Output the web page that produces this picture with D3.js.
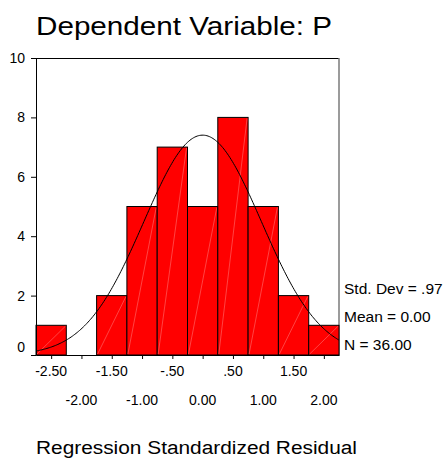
<!DOCTYPE html>
<html>
<head>
<meta charset="utf-8">
<script src="https://cdn.jsdelivr.net/npm/d3@7"></script>
<style>
  html, body { margin: 0; padding: 0; background: #fff; }
  svg { display: block; font-family: "Liberation Sans", Arial, sans-serif; }
</style>
</head>
<body>
<div id="chart"></div>
<script>
// histogram of standardized residuals (bin centres, counts)
const binCenters = [-2.5, -2.0, -1.5, -1.0, -0.5, 0.0, 0.5, 1.0, 1.5, 2.0];
const counts = [1, 0, 2, 5, 7, 5, 8, 5, 2, 1];
const yTicks = [0, 2, 4, 6, 8, 10];
const xLabelsTop = ["-2.50", "-1.50", "-.50", ".50", "1.50"];
const xLabelsTopAt = [-2.5, -1.5, -0.5, 0.5, 1.5];
const xLabelsBottom = ["-2.00", "-1.00", "0.00", "1.00", "2.00"];
const xLabelsBottomAt = [-2.0, -1.0, 0.0, 1.0, 2.0];
const stats = { sd: 0.97, mean: 0.0, n: 36 };
const statLines = ["Std. Dev = .97", "Mean = 0.00", "N = 36.00"];

class Histogram {
  constructor() {
    this.binWidth = 0.5;
    this.init();
  }

  init() {
    this.width = 446;
    this.height = 459;
    this.plot = { left: 36, right: 339, top: 58, bottom: 355 };

    this.x = d3
      .scaleLinear()
      .domain([binCenters[0] - this.binWidth / 2, binCenters[binCenters.length - 1] + this.binWidth / 2])
      .range([this.plot.left, this.plot.right]);
    this.y = d3.scaleLinear().domain([0, 10]).range([this.plot.bottom, this.plot.top]);

    this.svg = d3
      .select("#chart")
      .append("svg")
      .attr("width", this.width)
      .attr("height", this.height);

    this.render();
  }

  render() {
    const { x, y, svg, plot } = this;

    svg
      .append("text")
      .attr("x", 36)
      .attr("y", 35)
      .attr("font-size", 25)
      .attr("textLength", 296)
      .attr("lengthAdjust", "spacingAndGlyphs")
      .text("Dependent Variable: P");

    // frame: top black, right grey
    svg
      .append("line")
      .attr("x1", plot.left).attr("x2", plot.right)
      .attr("y1", plot.top + 0.5).attr("y2", plot.top + 0.5)
      .attr("stroke", "#000");
    svg
      .append("line")
      .attr("x1", plot.right).attr("x2", plot.right)
      .attr("y1", plot.top).attr("y2", plot.bottom)
      .attr("stroke", "#7a7a7a")
      .attr("stroke-width", 1.5);

    const bins = binCenters.map((c, i) => ({ c, n: counts[i] })).filter((d) => d.n > 0);
    const bar = svg.append("g").attr("class", "bars").selectAll("g").data(bins).join("g");
    bar
      .append("rect")
      .attr("x", (d) => x(d.c - this.binWidth / 2))
      .attr("y", (d) => y(d.n))
      .attr("width", (d) => x(d.c + this.binWidth / 2) - x(d.c - this.binWidth / 2))
      .attr("height", (d) => y(0) - y(d.n))
      .attr("fill", "#ff0000")
      .attr("stroke", "#000")
      .attr("stroke-width", 1);
    // faint seam along each bar's diagonal
    bar
      .append("line")
      .attr("x1", (d) => x(d.c - this.binWidth / 2) + 1)
      .attr("y1", y(0) - 1)
      .attr("x2", (d) => x(d.c + this.binWidth / 2) - 1)
      .attr("y2", (d) => y(d.n) + 1)
      .attr("stroke", "#ff7070")
      .attr("stroke-width", 0.6);

    // fitted normal curve
    const k = stats.n * this.binWidth / (stats.sd * Math.sqrt(2 * Math.PI));
    const xs = d3.range(x.domain()[0], x.domain()[1] + 0.001, 0.02);
    const line = d3
      .line()
      .x((v) => x(v))
      .y((v) => y(k * Math.exp(-0.5 * Math.pow((v - stats.mean) / stats.sd, 2))))
      .curve(d3.curveBasis);
    svg
      .append("path")
      .attr("d", line(xs))
      .attr("fill", "none")
      .attr("stroke", "#000")
      .attr("stroke-width", 1);

    // y axis
    const yAxis = svg
      .append("g")
      .attr("transform", `translate(${plot.left},0)`)
      .call(d3.axisLeft(y).tickValues(yTicks).tickSize(5).tickSizeOuter(0).tickPadding(6));
    yAxis.selectAll("text").attr("font-size", 14).attr("font-family", null).attr("fill", "#000");
    yAxis.selectAll("line,path").attr("stroke", "#000");
    yAxis.selectAll(".tick").filter((d) => d === 0).select("text").attr("dy", "-0.25em");

    // x axis: ticks at every bin centre, labels on two rows
    const xAxis = svg
      .append("g")
      .attr("transform", `translate(0,${plot.bottom})`)
      .call(d3.axisBottom(x).tickValues(binCenters).tickSize(4).tickSizeOuter(0).tickFormat(""));
    xAxis.selectAll("line,path").attr("stroke", "#000");

    svg
      .append("g")
      .selectAll("text")
      .data(xLabelsTop)
      .join("text")
      .attr("x", (d, i) => x(xLabelsTopAt[i]))
      .attr("y", 376)
      .attr("text-anchor", "middle")
      .attr("font-size", 14)
      .text((d) => d);
    svg
      .append("g")
      .selectAll("text")
      .data(xLabelsBottom)
      .join("text")
      .attr("x", (d, i) => x(xLabelsBottomAt[i]))
      .attr("y", 405)
      .attr("text-anchor", "middle")
      .attr("font-size", 14)
      .text((d) => d);

    svg
      .append("text")
      .attr("x", 36)
      .attr("y", 454)
      .attr("font-size", 18)
      .attr("textLength", 321)
      .attr("lengthAdjust", "spacingAndGlyphs")
      .text("Regression Standardized Residual");

    svg
      .append("g")
      .selectAll("text")
      .data(statLines)
      .join("text")
      .attr("x", 344)
      .attr("y", (d, i) => 294 + i * 28)
      .attr("font-size", 15.5)
      .text((d) => d);
  }
}

new Histogram();
</script>
</body>
</html>
